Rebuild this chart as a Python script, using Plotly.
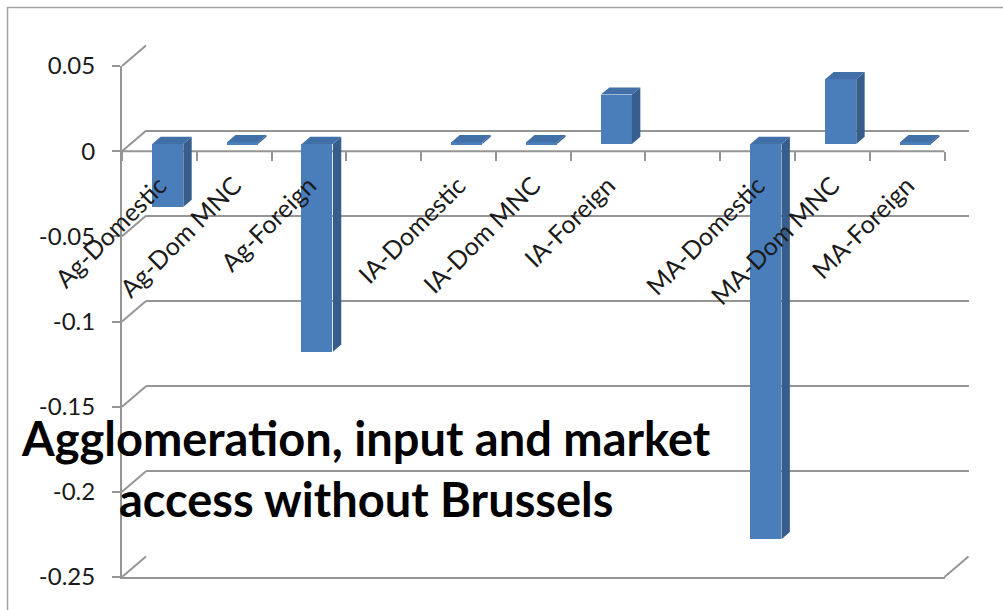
import plotly.graph_objects as go

# ---------------- data ----------------
categories = ["Ag-Domestic", "Ag-Dom MNC", "Ag-Foreign", "",
              "IA-Domestic", "IA-Dom MNC", "IA-Foreign", "",
              "MA-Domestic", "MA-Dom MNC", "MA-Foreign"]
values = [-0.037, 0.001, -0.122, None,
          0.001, 0.001, 0.029, None,
          -0.232, 0.038, 0.001]
y_ticks = [0.05, 0, -0.05, -0.1, -0.15, -0.2, -0.25]
y_tick_labels = ["0.05", "0", "-0.05", "-0.1", "-0.15", "-0.2", "-0.25"]
title_lines = ["Agglomeration, input and market", "access without Brussels"]

# ---------------- geometry / style ----------------
W, H = 1003, 610
FX0, FX1 = 122, 944.5          # front plot left / right (px)
FYT, FYB = 66, 577             # front y of top / bottom of value range (px)
DX, DY = 24, -20.5             # full depth offset (px)
F_FRONT, F_BACK = 0.35, 0.70   # bar front / back depth fraction
YMIN, YMAX = -0.25, 0.05
n = len(categories)
XMIN, XMAX = -0.5, n - 0.5
BW = 0.415

GRID = "#959595"
FRONT_C = "#4a7ebb"
SIDE_C = "#375d8c"
TOP_C = "#4170a8"
FONT = "Lato"


def dom_x(shift):
    return [(FX0 + shift) / W, (FX1 + shift) / W]


def dom_y(shift):
    return [1 - (FYB + shift) / H, 1 - (FYT + shift) / H]


def py(v, depth):
    return FYT + (YMAX - v) / (YMAX - YMIN) * (FYB - FYT) + DY * depth


def pfx(depth, right=False):
    return (FX1 if right else FX0) + DX * depth


px_per_x = (FX1 - FX0) / (XMAX - XMIN)
px_per_y = (FYB - FYT) / (YMAX - YMIN)
ddx = (F_BACK - F_FRONT) * DX / px_per_x
ddy = (F_BACK - F_FRONT) * (-DY) / px_per_y

fig = go.Figure()

# dummy traces to create the structural subplots
fig.add_trace(go.Scatter(x=[], y=[], xaxis="x", yaxis="y", showlegend=False))   # back wall
fig.add_trace(go.Scatter(x=[], y=[], xaxis="x3", yaxis="y3", showlegend=False)) # front axes
fig.add_trace(go.Scatter(x=[], y=[], xaxis="x4", yaxis="y3", showlegend=False)) # labels
fig.add_trace(go.Scatter(x=[], y=[], xaxis="x5", yaxis="y3", showlegend=False)) # ticks

xs = list(range(n))
# front faces
fig.add_trace(go.Bar(x=xs, y=values, width=BW, xaxis="x2", yaxis="y2",
                     marker=dict(color=FRONT_C, line=dict(width=0)),
                     showlegend=False, hoverinfo="skip"))

# side and top faces (oblique projection of the same data)
for i, v in enumerate(values):
    if v is None:
        continue
    xl, xr = i - BW / 2, i + BW / 2
    fig.add_trace(go.Scatter(
        x=[xr, xr + ddx, xr + ddx, xr, xr],
        y=[0, ddy, v + ddy, v, 0],
        xaxis="x2", yaxis="y2", mode="lines", fill="toself",
        fillcolor=SIDE_C, line=dict(width=0, color=SIDE_C),
        showlegend=False, hoverinfo="skip"))
    t = max(v, 0)
    fig.add_trace(go.Scatter(
        x=[xl, xl + ddx, xr + ddx, xr, xl],
        y=[t, t + ddy, t + ddy, t, t],
        xaxis="x2", yaxis="y2", mode="lines", fill="toself",
        fillcolor=TOP_C, line=dict(width=0, color=TOP_C),
        showlegend=False, hoverinfo="skip"))

shapes = []
# side-wall diagonals
for tv in y_ticks:
    shapes.append(dict(type="line", xref="paper", yref="paper",
                       x0=pfx(0) / W, y0=1 - py(tv, 0) / H,
                       x1=pfx(1) / W, y1=1 - py(tv, 1) / H,
                       line=dict(color=GRID, width=2), layer="below"))
# floor right diagonal
shapes.append(dict(type="line", xref="paper", yref="paper",
                   x0=pfx(0, True) / W, y0=1 - py(YMIN, 0) / H,
                   x1=pfx(1, True) / W, y1=1 - py(YMIN, 1) / H,
                   line=dict(color=GRID, width=2), layer="below"))
# front zero line (behind the bars)
shapes.append(dict(type="line", xref="paper", yref="paper",
                   x0=pfx(0) / W, y0=1 - py(0, 0) / H,
                   x1=pfx(0, True) / W, y1=1 - py(0, 0) / H,
                   line=dict(color=GRID, width=2), layer="below"))
# outer frame
shapes.append(dict(type="rect", xref="paper", yref="paper",
                   x0=7.5 / W, y0=1 - 7.5 / H, x1=1.05, y1=-0.05,
                   line=dict(color="#a3a3a3", width=1.5), layer="below"))

ytickfont = dict(family=FONT, size=24, color="#1a1a1a")
xtickfont = dict(family=FONT, size=25, color="#1a1a1a")
common = dict(automargin=False, fixedrange=True)

fig.update_layout(
    width=W, height=H, autosize=False,
    margin=dict(l=0, r=0, t=0, b=0, autoexpand=False),
    paper_bgcolor="white", plot_bgcolor="rgba(0,0,0,0)",
    showlegend=False, bargap=0,
    shapes=shapes,
    # back wall
    xaxis=dict(domain=dom_x(DX), range=[XMIN, XMAX], anchor="y",
               visible=False, **common),
    yaxis=dict(domain=dom_y(DY), range=[YMIN, YMAX], anchor="x",
               tickmode="array", tickvals=y_ticks, showticklabels=False,
               ticks="", showline=False, zeroline=False,
               showgrid=True, gridcolor=GRID, gridwidth=2, **common),
    # bars
    xaxis2=dict(domain=dom_x(DX * F_FRONT), range=[XMIN, XMAX], anchor="y2",
                visible=False, **common),
    yaxis2=dict(domain=dom_y(DY * F_FRONT), range=[YMIN, YMAX], anchor="x2",
                visible=False, **common),
    # front axes
    xaxis3=dict(domain=dom_x(0), range=[XMIN, XMAX], anchor="y3",
                showline=True, linecolor=GRID, linewidth=2,
                showgrid=False, zeroline=False, ticks="", showticklabels=False,
                **common),
    yaxis3=dict(domain=dom_y(0), range=[YMIN, YMAX], anchor="x3",
                showline=True, linecolor=GRID, linewidth=2,
                tickmode="array", tickvals=y_ticks, ticktext=y_tick_labels,
                ticks="outside", ticklen=8, tickwidth=2, tickcolor=GRID,
                ticklabelstandoff=12,
                showgrid=False, zeroline=False, tickfont=ytickfont, **common),
    xaxis4=dict(overlaying="x3", anchor="free", position=1 - py(0, 0) / H,
                range=[XMIN, XMAX], tickmode="array", tickvals=xs,
                ticktext=categories, tickangle=-45, ticks="",
                ticklabelstandoff=14,
                showline=False, showgrid=False, zeroline=False,
                tickfont=xtickfont, **common),
    xaxis5=dict(overlaying="x3", anchor="free", position=1 - py(0, 0) / H,
                range=[XMIN, XMAX], tickmode="array",
                tickvals=[i - 0.5 for i in range(n + 1)],
                ticks="outside", ticklen=9, tickwidth=2, tickcolor=GRID,
                showticklabels=False, showline=False, showgrid=False,
                zeroline=False, **common),
    annotations=[dict(text="<b>" + "<br>".join(title_lines) + "</b>",
                      xref="paper", yref="paper", x=366 / W, y=1 - 468 / H,
                      xanchor="center", yanchor="middle", showarrow=False,
                      align="center",
                      font=dict(family=FONT, size=47, color="#000000"))],
)

fig.write_html("out.html")
